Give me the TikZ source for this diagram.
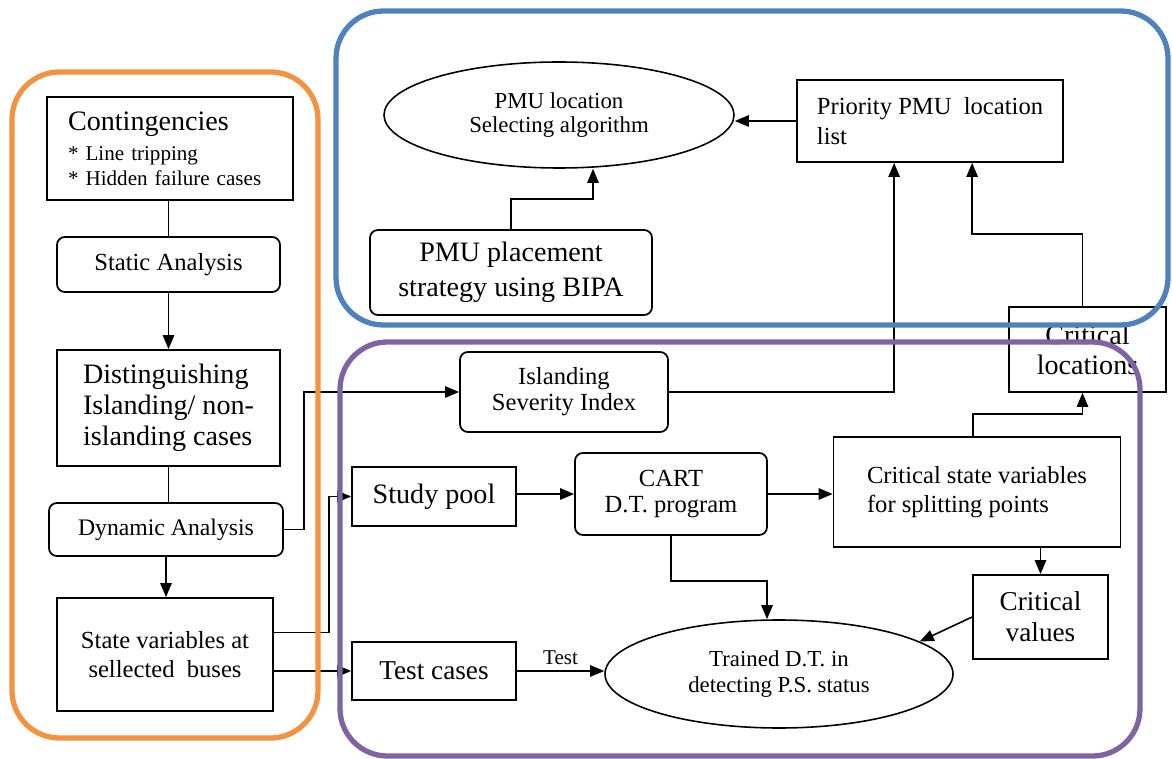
\documentclass[tikz,border=0pt]{standalone}
\usepackage{fontspec}
\setmainfont{Liberation Serif}
\usetikzlibrary{arrows.meta,calc,shapes.geometric}
\definecolor{frameorange}{RGB}{243,146,64}
\definecolor{frameblue}{RGB}{79,129,189}
\definecolor{framepurple}{RGB}{128,100,162}
\newcommand{\fsz}[2]{\fontsize{#1}{#2}\selectfont}
\tikzset{
  px/.style 2 args={minimum width=#1*0.02cm, minimum height=#2*0.02cm},
  box/.style={draw, line width=1pt, inner sep=0pt, align=center},
  rbox/.style={box, rounded corners=4.5pt},
  oval/.style={draw, ellipse, line width=0.9pt, inner sep=0pt, align=center},
  link/.style={line width=0.9pt},
  arr/.style={link, -{Triangle[length=8pt,width=6.5pt]}},
  frame/.style={line width=3pt, rounded corners=27pt},
}
\begin{document}
\begin{tikzpicture}[x=0.02cm,y=-0.02cm]
\useasboundingbox (0,0) rectangle (1172,759);

% left column: contingency screening
\node[box, px={246}{103}, align=left, inner xsep=0.42cm, text width=4.08cm,
      font=\fsz{12}{14}] (cont) at (170,148.5)
  {{\fsz{16}{18}Contingencies}\\[3.5pt]{*} Line tripping\\{*} Hidden failure cases};
\node[rbox, px={223}{55}, font=\fsz{14}{16}] (stat) at (168.5,264.5) {Static Analysis};
\node[box, px={223}{116}, align=left, font=\fsz{16}{17.6}] (dist) at (168.5,408)
  {Distinguishing\\Islanding/ non-\\islanding cases};
\node[rbox, px={234}{53}, font=\fsz{13.5}{16}] (dyn) at (166,529.5) {Dynamic Analysis};
\node[box, px={216}{113}, font=\fsz{14}{16.4}] (svar) at (165,654.5)
  {State variables at\\sellected\ \ buses};

% lower block: decision tree training
\node[rbox, px={208}{80}, font=\fsz{14}{14.7}] (isi) at (564,392) {Islanding\\Severity Index};
\node[box, px={164}{59}, font=\fsz{16}{18}] (study) at (434,496.5) {Study pool};
\node[box, px={164}{58}, font=\fsz{15.5}{18}] (test) at (434,671) {Test cases};
\node[rbox, px={192}{82}, font=\fsz{14}{15.3}] (cart) at (671,494) {CART\\D.T. program};
\node[box, px={287}{110}, align=left, font=\fsz{14}{16.4}] (csv) at (977,492)
  {Critical state variables\\for splitting points};
\node[box, px={135}{84}, font=\fsz{15.5}{17.6}] (cval) at (1040.5,617) {Critical\\values};
\node[oval, px={348}{108}, font=\fsz{13}{14.7}] (tdt) at (779,674)
  {Trained D.T. in\\detecting P.S. status};
\node[box, px={157}{85}, font=\fsz{16}{17}] (cloc) at (1087.5,349.5) {Critical\\locations};

% upper block: PMU placement
\node[box, px={266}{82}, align=left, font=\fsz{14}{17}] (prio) at (930,121)
  {Priority PMU\ \ location\\list};
\node[oval, px={350}{106}, font=\fsz{13}{13.6}] (pmu) at (559,115)
  {PMU location\\Selecting algorithm};
\node[rbox, px={282}{85}, font=\fsz{16}{20}] (place) at (511,272.5)
  {PMU placement\\strategy using BIPA};

% connectors
\draw[link] (stat.north) -- (stat.north |- cont.south);
\draw[arr] (stat.south) -- (stat.south |- dist.north);
\draw[link] (dist.south) -- (dist.south |- dyn.north);
\draw[arr] (dyn.south) -- (dyn.south |- svar.north);
\draw[arr] (dyn.east) -- ++(20,0) |- (isi.west);
\draw[arr] ($(svar.east)+(0,-22)$) -- ++(55,0) |- (study.west);
\draw[arr] (svar.east |- test.west) -- (test.west);
\draw[arr] (cart.west -| study.east) -- (cart.west);
\draw[arr] (cart.east) -- (cart.east -| csv.west);
\coordinate (tdtin) at ($(tdt.north)+(-12,0)$);
\draw[arr] (cart.south) -- ++(0,45) -| (tdtin);
\draw[arr] (test.east) -- node[above, font=\fsz{12}{14}] (testlbl) {Test} (tdt.west |- test.east);
\draw[arr] (cval.west) -- (tdt.13);
\draw[arr] (csv.south -| cval.north) -- (cval.north);
\coordinate (clocin) at ($(cloc.south)+(-5,0)$);
\draw[arr] ($(csv.north)+(-4,0)$) -- ++(0,-22) -| (clocin);
\coordinate (pinA) at ($(prio.south west)+(98,0)$);
\coordinate (pinB) at ($(prio.south west)+(176,0)$);
\draw[arr] (isi.east) -| (pinA);
\draw[arr] (clocin |- cloc.north) -- ++(0,-72) -| (pinB);
\draw[arr] (prio.west) -- (pmu.east |- prio.west);
\coordinate (pinC) at ($(pmu.south)+(34,0)$);
\draw[arr] (place.north) -- ++(0,-30) -| (pinC);

% grouping frames
\draw[frame, frameorange] (12,72) rectangle (318,738);
\draw[frame, frameblue] (336,11) rectangle (1168,325);
\draw[frame, framepurple] (340,342) rectangle (1140,756);
\end{tikzpicture}
\end{document}
